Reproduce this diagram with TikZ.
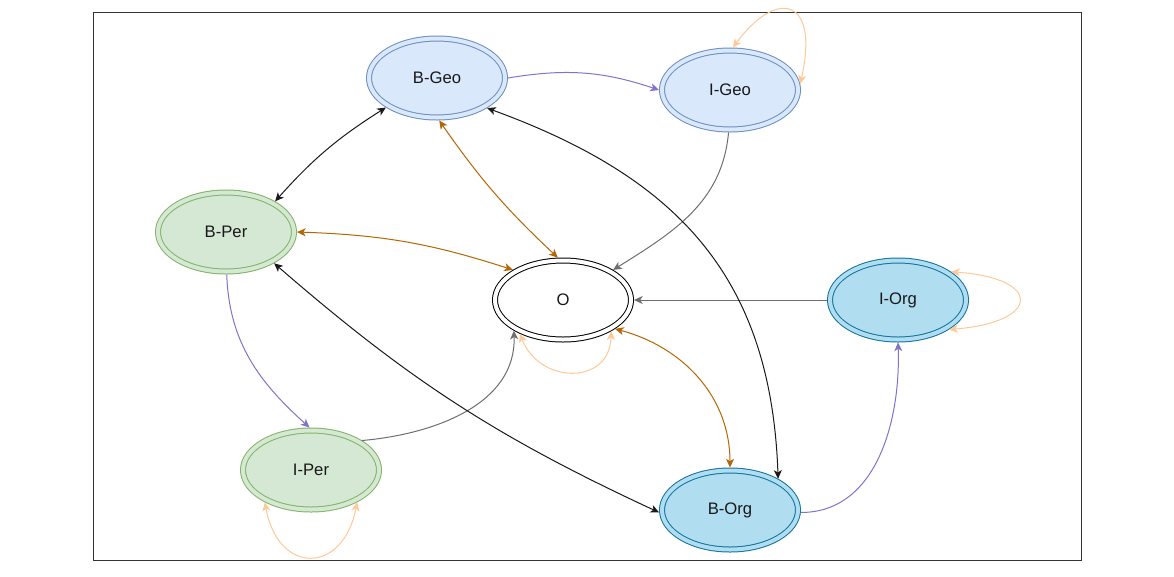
\documentclass[tikz,border=0pt]{standalone}
\usepackage{fontspec}
\setmainfont{Liberation Sans}
\usetikzlibrary{arrows.meta,shapes.geometric}

% state fills and outlines
\definecolor{geoFill}{HTML}{DAE8FC}
\definecolor{geoLine}{HTML}{6C8EBF}
\definecolor{perFill}{HTML}{D5E8D4}
\definecolor{perLine}{HTML}{82B366}
\definecolor{orgFill}{HTML}{B1DDF0}
\definecolor{orgLine}{HTML}{10739E}
% transition colours
\definecolor{insideTr}{HTML}{7F74C8}
\definecolor{outsideTr}{HTML}{B46504}
\definecolor{selfTr}{HTML}{FFC896}
\definecolor{toOTr}{HTML}{6E6E6E}
\definecolor{frameLine}{HTML}{333333}

\begin{document}
\begin{tikzpicture}[x=0.75pt,y=-0.75pt,
  >={Stealth[length=6.5pt,width=6pt,inset=1.8pt]},
  state/.style={ellipse, draw, line width=0.75pt, double distance=3pt,
    minimum width=102pt, minimum height=59.25pt, inner sep=0pt,
    outer sep=2.25pt, font=\fontsize{12.5}{15}\selectfont, text=black!90},
  geo/.style={state, draw=geoLine, fill=geoFill, double=geoFill},
  per/.style={state, draw=perLine, fill=perFill, double=perFill},
  org/.style={state, draw=orgLine, fill=orgFill, double=orgFill},
  other/.style={state, draw=black, fill=white, double=white},
  edge/.style={line width=0.75pt},
  inside/.style={edge, draw=insideTr, ->},
  outside/.style={edge, draw=outsideTr, <->},
  selfloop/.style={edge, draw=selfTr, <->},
  toO/.style={edge, draw=toOTr, ->},
  cross/.style={edge, draw=black!90, <->}]

\useasboundingbox (0,0) rectangle (1174,576);
\draw[frameLine, line width=0.75pt] (93,12) rectangle (1081,560);

% states
\node[geo]   (bgeo) at (437,78)  {B-Geo};
\node[geo]   (igeo) at (730,90)  {I-Geo};
\node[per]   (bper) at (226,232) {B-Per};
\node[other] (o)    at (563,300) {O};
\node[org]   (iorg) at (898,300) {I-Org};
\node[per]   (iper) at (311,470) {I-Per};
\node[org]   (borg) at (730,510) {B-Org};

% begin -> inside transitions
\draw[inside] (bgeo.0) to[bend left=14] (igeo.180);
\draw[inside] (bper.271) to[out=-88,in=138] (iper.92);
\draw[inside] (borg.-2) to[out=0,in=-88] (iorg.270);

% inside -> O
\draw[toO] (igeo.268) to[out=-95,in=32] (o.31);
\draw[toO] (iper.30) to[out=5,in=-88] (o.212);
\draw[toO] (iorg.180) -- (o.0);

% begin <-> O
\draw[outside] (bgeo.273) to[bend right=6] (o.97);
\draw[outside] (bper.0) to[bend left=8] (o.149);
\draw[outside] (o.331) to[out=-15,in=90] (borg.90);

% begin <-> begin
\draw[cross] (bper.32) to[bend left=8] (bgeo.210);
\draw[cross] (bgeo.329) to[out=-20,in=92,looseness=1.1] (borg.33);
\draw[cross] (bper.327) to[bend right=8] (borg.182);

% self loops
\draw[selfloop] (igeo.86) .. controls (775,-10) and (820,-5) .. (igeo.5);
\draw[selfloop] (iorg.28) .. controls (1042,278) and (1042,322) .. (iorg.-30);
\draw[selfloop] (iper.215) .. controls (278,575) and (343,575) .. (iper.325);
\draw[selfloop] (o.218) .. controls (540,385) and (610,385) .. (o.327);
\end{tikzpicture}
\end{document}
